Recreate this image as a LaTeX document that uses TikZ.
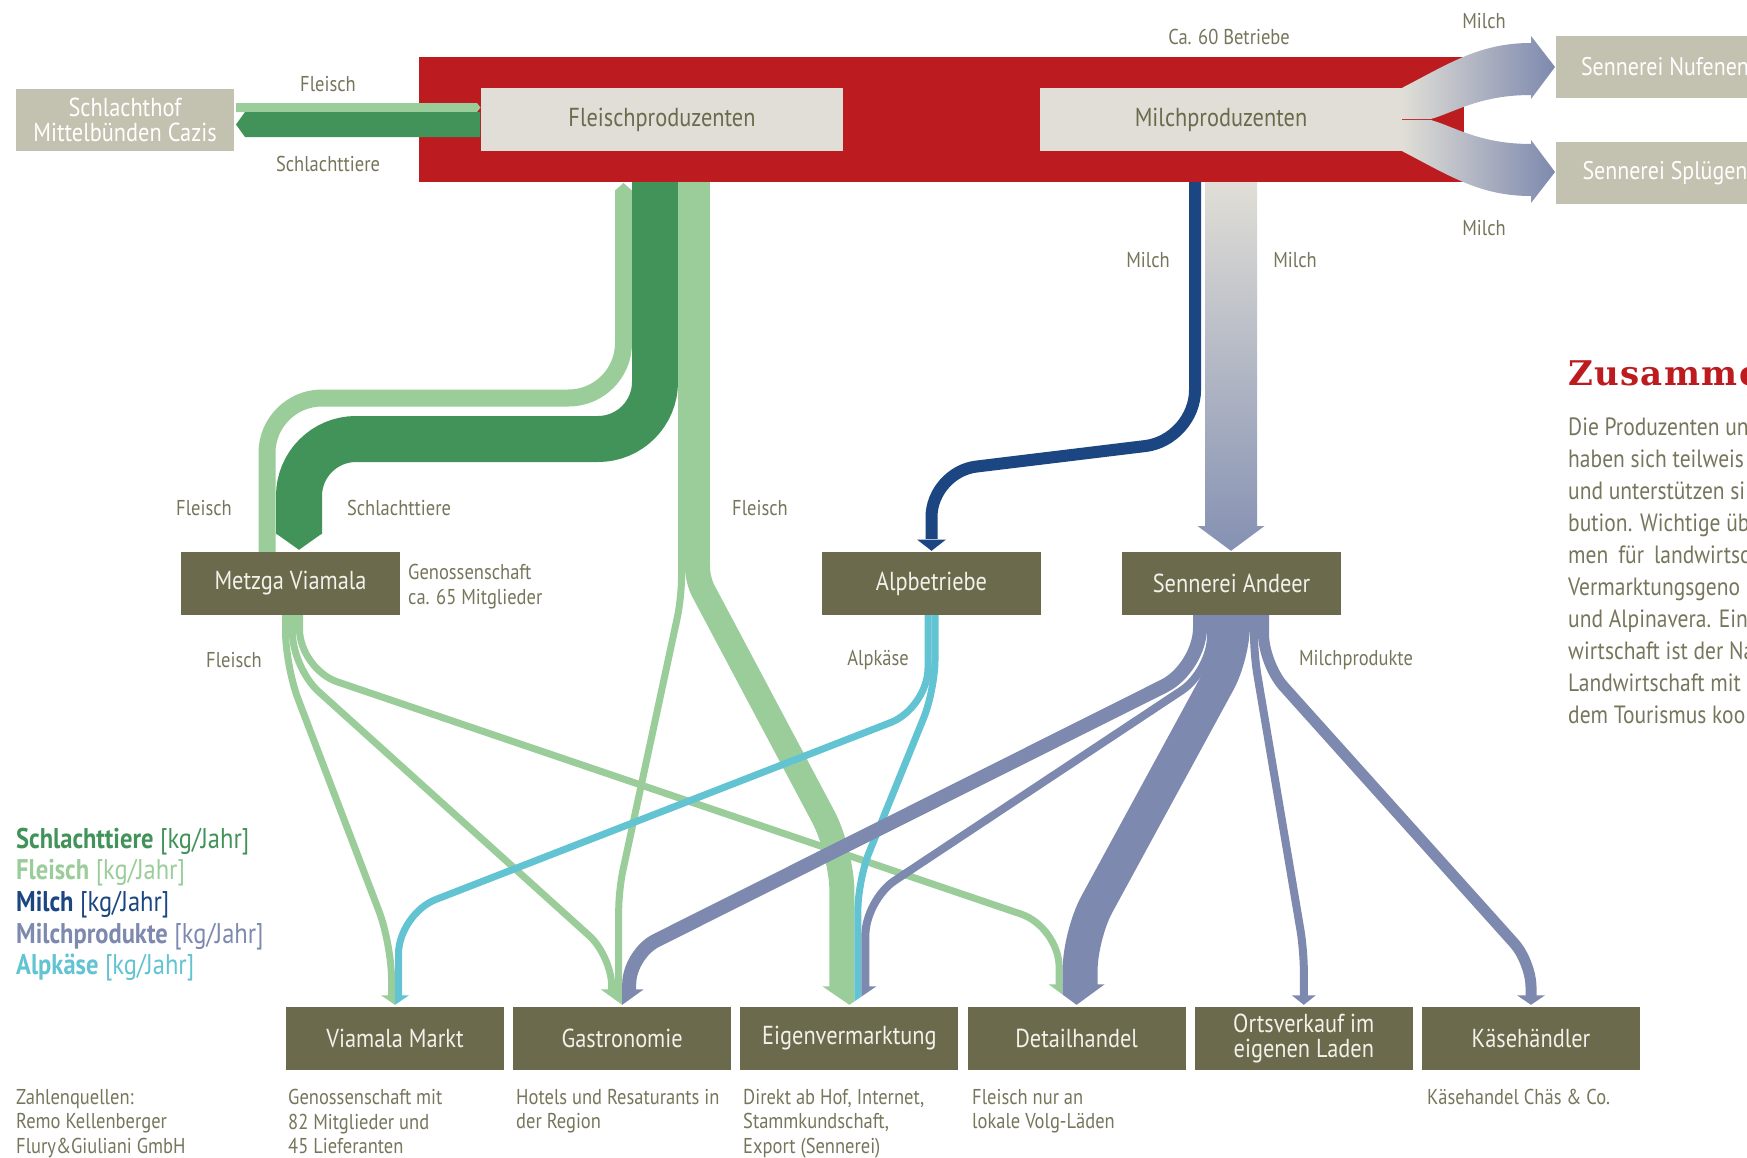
\documentclass[tikz,border=0pt]{standalone}
\usepackage{fontspec}
\setmainfont{PT Sans}[FakeStretch=0.86]
\newfontfamily\titlefam{DejaVu Serif}[LetterSpace=4]

\definecolor{redc}{HTML}{BC1C20}
\definecolor{olive}{HTML}{6C6A4C}
\definecolor{boxtext}{HTML}{F2F1EA}
\definecolor{labc}{HTML}{77765C}
\definecolor{palec}{HTML}{E0DED6}
\definecolor{greyc}{HTML}{C3C1AF}
\definecolor{tierec}{HTML}{42935A}
\definecolor{fleischc}{HTML}{9BCD9B}
\definecolor{milchc}{HTML}{1B4682}
\definecolor{prodc}{HTML}{7D89AE}
\definecolor{milchend}{HTML}{8591B3}
\definecolor{alpc}{HTML}{62C3D2}

\newcommand{\boxsize}{\fontsize{26}{25}\selectfont}
\newcommand{\labsize}{\fontsize{21.5}{25}\selectfont}
\newcommand{\descsize}{\fontsize{21.5}{24.5}\selectfont}
\newcommand{\legsize}{\fontsize{28.5}{31}\selectfont}
\newcommand{\sidesize}{\fontsize{25}{32}\selectfont}
\newcommand{\titlesize}{\titlefam\bfseries\fontsize{34}{34}\selectfont}

\newcommand{\headpart}[6]{%
  \begin{scope}
    \clip ([xshift=#3]#2.north) rectangle ([xshift=#4, yshift=#6+4pt]#2.north);
    \fill[#1] ([xshift=-#5, yshift=#6+2.5pt]#2.north) -- ([xshift=#5, yshift=#6+2.5pt]#2.north) -- ([yshift=2pt]#2.north) -- cycle;
  \end{scope}}

\begin{document}
\begin{tikzpicture}[x=1pt, y=-1pt,
  darkbox/.style={fill=olive, text=boxtext, minimum width=218pt, minimum height=63pt, inner sep=0pt, font=\boxsize, align=center},
  palebox/.style={fill=palec, text=olive, minimum width=362pt, minimum height=63pt, inner sep=0pt, font=\boxsize},
  greybox/.style={fill=greyc, text=white, minimum width=218pt, minimum height=62pt, inner sep=0pt, font=\boxsize, align=center},
  lab/.style={text=labc, font=\labsize, inner sep=0pt},
  desc/.style={text=labc, font=\descsize, inner sep=0pt, align=left, anchor=north west},
  legendtext/.style={font=\legsize, inner sep=0pt},
  sidetext/.style={text=labc, font=\sidesize, inner sep=0pt},
  tiere/.style={draw=tierec, line width=#1},
  fleisch/.style={draw=fleischc, line width=#1},
  milch/.style={draw=milchc, line width=#1},
  prod/.style={draw=prodc, line width=#1},
  alp/.style={draw=alpc, line width=#1}]

  \useasboundingbox (0,0) rectangle (1747,1157);
  \clip (0,0) rectangle (1747,1157);
  \fill[white] (0,0) rectangle (1747,1157);

  \node[fill=redc, minimum width=1045pt, minimum height=125pt, inner sep=0pt] (betriebe) at (941.5,119.5) {};
  \node[greybox] (schlachthof) at (125,119.5) {Schlachthof\\Mittelbünden Cazis};
  \node[palebox] (fleischprod) at (662,119.5) {Fleischproduzenten};
  \node[palebox] (milchprod) at (1221,119.5) {Milchproduzenten};
  \node[greybox, font=\fontsize{25.5}{25}\selectfont] (nufenen) at (1665,67) {Sennerei Nufenen};
  \node[greybox, font=\fontsize{25.5}{25}\selectfont] (spluegen) at (1665,173) {Sennerei Splügen};

  \node[darkbox, minimum width=219pt] (metzga) at (290.5,583.5) {Metzga Viamala};
  \node[darkbox, minimum width=219pt] (alpbetriebe) at (931.5,583.5) {Alpbetriebe};
  \node[darkbox, minimum width=219pt] (andeer) at (1231.5,583.5) {Sennerei Andeer};

  \foreach \name/\txt [count=\i from 0] in {viamala/Viamala Markt, gastro/Gastronomie, eigen/Eigenvermarktung, detail/Detailhandel, orts/{Ortsverkauf im\\eigenen Laden}, kaese/Käsehändler}
    \node[darkbox] (\name) at ({395+227.2*\i},1038.5) {\txt};

  \fill[fleischc] (236,103) -- (477,103) -- (480.5,107.5) -- (477,112) -- (236,112) -- cycle;
  \fill[tierec] (480,112) -- (245,112) -- (236,124.5) -- (245,137) -- (480,137) -- cycle;

  \shade[left color=palec, right color=prodc] (milchprod.north east) .. controls (1450,63) and (1480,43) .. (1531,43) -- (1531,36) -- (1555,67) -- (1531,99) -- (1531,95) .. controls (1480,95) and (1455,112) .. (1431,119) -- (1402,119) -- cycle;
  \shade[left color=palec, right color=prodc] (1402,120) -- (1431,120) .. controls (1455,127) and (1480,144) .. (1531,144) -- (1531,140) -- (1555,172) -- (1531,203) -- (1531,196) .. controls (1480,196) and (1450,176) .. (milchprod.south east) -- cycle;

  \draw[fleisch=17, rounded corners=55] ([xshift=-23.5pt]metzga.north) -- (267,398) -- (623.5,398) -- (623.5,190);
  \fill[fleischc] (615,190.5) -- (623.5,183) -- (632,190.5) -- cycle;
  \draw[tiere=46, rounded corners=57] ([xshift=-286.5pt]betriebe.south) -- (655,439) -- (299,439) -- (299,534);
  \fill[tierec] (276,533.5) -- (322,533.5) -- ([xshift=8.5pt,yshift=2pt]metzga.north) -- cycle;

  \draw[fleisch=32] ([xshift=-247.5pt]betriebe.south) -- (694,566);
  \draw[fleisch=7, rounded corners=20] (681.5,565) -- (681.5,598) -- (618.7,890) -- ([xshift=-3.5pt,yshift=17pt]gastro.north);
  \draw[fleisch=25, rounded corners=12] (697.5,565) -- (697.5,580) [rounded corners=40] -- (842,852) -- ([xshift=-7.5pt,yshift=20pt]eigen.north);

  \draw[fleisch=7, rounded corners=35] ([xshift=-5pt]metzga.south) -- (285.5,666) -- (391.5,944) -- ([xshift=-3.5pt,yshift=11pt]viamala.north);
  \draw[fleisch=7, rounded corners=35] ([xshift=2pt]metzga.south) -- (292.5,668) [rounded corners=30] -- (611.7,956) -- ([xshift=-10.5pt,yshift=17pt]gastro.north);
  \draw[fleisch=7, rounded corners=40] ([xshift=9pt]metzga.south) -- (299.5,669) -- (1059.1,927) -- ([xshift=-17.5pt,yshift=22pt]detail.north);

  \draw[alp=7, rounded corners=40] ([xshift=-3.5pt]alpbetriebe.south) -- (928,708) -- (398.5,914) -- ([xshift=3.5pt,yshift=11pt]viamala.north);
  \draw[alp=7, rounded corners=30] ([xshift=3.5pt]alpbetriebe.south) -- (935,690) -- (857.9,880) -- ([xshift=8.5pt,yshift=20pt]eigen.north);

  \draw[prod=14, rounded corners=40] ([xshift=-31.5pt]andeer.south) -- (1200,668) [rounded corners=30] -- (629.2,954) -- ([xshift=7pt,yshift=17pt]gastro.north);
  \draw[prod=8, rounded corners=35] ([xshift=-20.5pt]andeer.south) -- (1211,671) -- (865.4,900) -- ([xshift=16pt,yshift=20pt]eigen.north);
  \draw[prod=35, rounded corners=30] ([xshift=1pt]andeer.south) -- (1232.5,655) [rounded corners=35] -- (1080.1,935) -- ([xshift=3.5pt,yshift=22pt]detail.north);
  \draw[prod=8, rounded corners=20] ([xshift=22.5pt]andeer.south) -- (1254,655) -- (1303.8,950) -- ([yshift=11pt]orts.north);
  \draw[prod=11, rounded corners=30] ([xshift=32pt]andeer.south) -- (1263.5,664) [rounded corners=25] -- (1531,962) -- ([yshift=11pt]kaese.north);

  \draw[milch=12, rounded corners=50] ([xshift=253.5pt]betriebe.south) -- (1195,440) [rounded corners=45] -- (931.5,472) -- ([yshift=13pt]alpbetriebe.north);
  \fill[milchc] (917,539.5) -- (946,539.5) -- ([yshift=1pt]alpbetriebe.north) -- cycle;
  \shade[top color=palec, bottom color=milchend] ([xshift=263.5pt]betriebe.south) -- ([xshift=315.5pt]betriebe.south) -- (1257,526) -- (1264.5,526) -- ([xshift=-0.5pt,yshift=1pt]andeer.north) -- (1197.5,526) -- (1205,526) -- cycle;

  \headpart{fleischc}{viamala}{-20pt}{0pt}{14pt}{9pt}
  \headpart{alpc}{viamala}{0pt}{20pt}{14pt}{9pt}
  \headpart{fleischc}{gastro}{-30pt}{0pt}{21.5pt}{15pt}
  \headpart{prodc}{gastro}{0pt}{30pt}{21.5pt}{15pt}
  \headpart{fleischc}{eigen}{-35pt}{5pt}{27pt}{18pt}
  \headpart{alpc}{eigen}{5pt}{12pt}{27pt}{18pt}
  \headpart{prodc}{eigen}{12pt}{35pt}{27pt}{18pt}
  \headpart{fleischc}{detail}{-35pt}{-14pt}{28pt}{20pt}
  \headpart{prodc}{detail}{-14pt}{35pt}{28pt}{20pt}
  \headpart{prodc}{orts}{-20pt}{20pt}{12pt}{9pt}
  \headpart{prodc}{kaese}{-20pt}{20pt}{14pt}{9pt}

  \node[lab] (fleischoben) at (328,84) {Fleisch};
  \node[lab] (tiereoben) at (328,164) {Schlachttiere};
  \node[lab] (anzahl) at (1229,37) {Ca. 60 Betriebe};
  \node[lab] (milchnord) at (1484,21) {Milch};
  \node[lab] (milchsued) at (1484,228) {Milch};
  \node[lab] (milchalp) at (1148,260) {Milch};
  \node[lab] (milchandeer) at (1295,260) {Milch};
  \node[lab] (fleischmetzga) at (204,508) {Fleisch};
  \node[lab] (tieremetzga) at (399,508) {Schlachttiere};
  \node[lab] (fleischeigen) at (760,508) {Fleisch};
  \node[lab, anchor=north west, align=left] (genossen) at (408,564) {Genossenschaft\\ca. 65 Mitglieder};
  \node[lab] (fleischunten) at (234,660) {Fleisch};
  \node[lab] (alpkaese) at (878,660) {Alpkäse};
  \node[lab] (produkte) at (1356,660) {Milchprodukte};

  \foreach \word/\col [count=\i from 0] in {Schlachttiere/tierec, Fleisch/fleischc, Milch/milchc, Milchprodukte/prodc, Alpkäse/alpc}
    \node[legendtext, text=\col, anchor=base west] (legende\i) at (16,{848+31.7*\i}) {\textbf{\word} [kg/Jahr]};

  \node[desc] (quellen) at (16,1089) {Zahlenquellen:\\Remo Kellenberger\\Flury\&Giuliani GmbH};
  \node[desc] (viamalatext) at (288,1089) {Genossenschaft mit\\82 Mitglieder und\\45 Lieferanten};
  \node[desc] (gastrotext) at (516,1089) {Hotels und Resaturants in\\der Region};
  \node[desc] (eigentext) at (743,1089) {Direkt ab Hof, Internet,\\Stammkundschaft,\\Export (Sennerei)};
  \node[desc] (detailtext) at (972,1089) {Fleisch nur an\\lokale Volg-Läden};
  \node[desc] (kaesetext) at (1427,1089) {Käsehandel Chäs \& Co.};

  \node[anchor=base west, text=redc, font=\titlesize, inner sep=0pt] (titel) at (1568,385) {Zusamme};
  \foreach \zeile [count=\i from 0] in {Die Produzenten un, haben sich teilweis, und unterstützen si, bution. Wichtige übe, men\hspace{0.4em}für\hspace{0.4em}landwirtsch, Vermarktungsgeno, und Alpinavera. Ein, wirtschaft ist der Na, Landwirtschaft mit, dem Tourismus koo}
    \node[sidetext, anchor=base west] (seite\i) at (1568,{435+32*\i}) {\zeile};
\end{tikzpicture}
\end{document}
